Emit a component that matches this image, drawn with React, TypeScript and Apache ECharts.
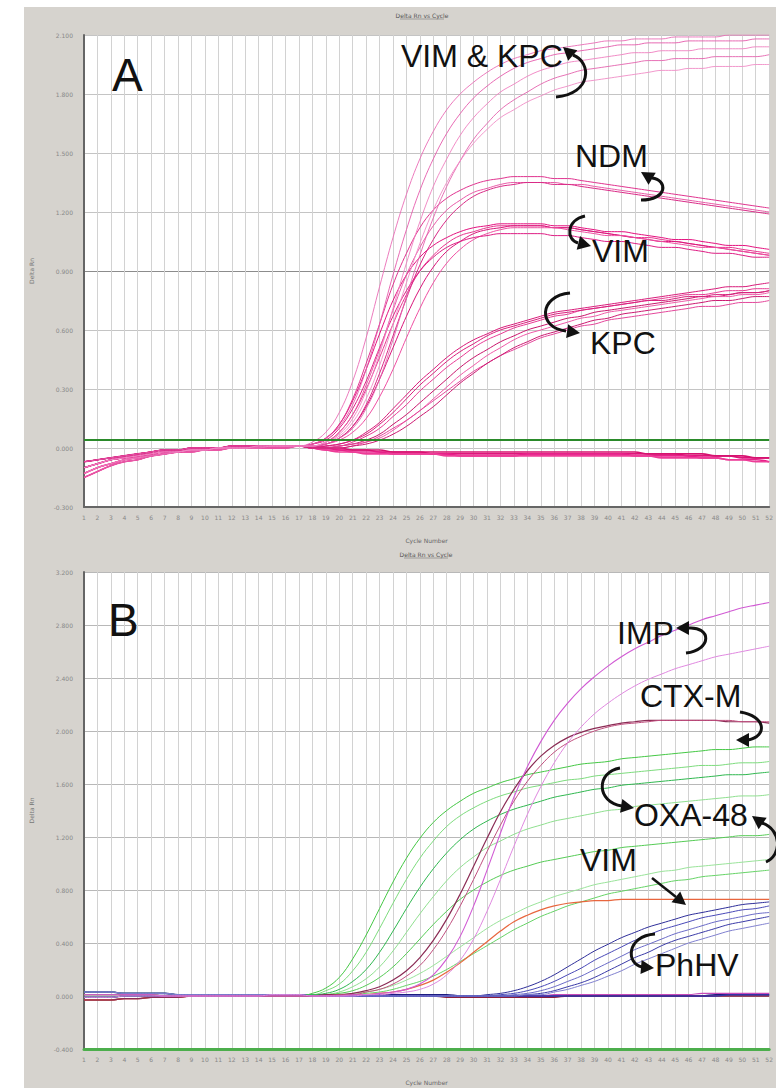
import React, { useEffect, useRef } from "react";
import * as echarts from "echarts";

// ---------- categories / ticks ----------
const cycles = ["1","2","3","4","5","6","7","8","9","10","11","12","13","14","15","16","17","18","19","20","21","22","23","24","25","26","27","28","29","30","31","32","33","34","35","36","37","38","39","40","41","42","43","44","45","46","47","48","49","50","51","52"];
const yMinA = -0.3, yMaxA = 2.1, yStepA = 0.3;
const yMinB = -0.4, yMaxB = 3.2, yStepB = 0.4;
const thresholdA = 0.04;

// ---------- Panel A (Delta Rn per cycle) ----------
const vimKpc1 = [-0.10,-0.08,-0.06,-0.05,-0.04,-0.03,-0.02,-0.02,-0.01,-0.01,0.00,0.00,0.00,0.01,0.01,0.01,0.01,0.03,0.08,0.18,0.34,0.56,0.82,1.07,1.29,1.47,1.61,1.72,1.80,1.86,1.91,1.95,1.98,2.00,2.02,2.03,2.04,2.05,2.06,2.07,2.07,2.08,2.08,2.08,2.09,2.09,2.09,2.09,2.10,2.10,2.10,2.10];
const vimKpc2 = [-0.07,-0.06,-0.05,-0.04,-0.03,-0.02,-0.01,-0.01,0.00,0.00,0.00,0.01,0.01,0.01,0.01,0.01,0.01,0.02,0.05,0.11,0.22,0.40,0.63,0.88,1.11,1.31,1.47,1.60,1.70,1.78,1.84,1.89,1.93,1.96,1.98,2.00,2.01,2.02,2.03,2.04,2.05,2.05,2.06,2.06,2.06,2.07,2.07,2.07,2.07,2.07,2.08,2.08];
const vimKpc3 = [-0.13,-0.10,-0.08,-0.06,-0.05,-0.04,-0.03,-0.02,-0.01,-0.01,0.00,0.00,0.00,0.00,0.01,0.01,0.01,0.01,0.03,0.07,0.15,0.29,0.48,0.71,0.94,1.15,1.33,1.47,1.59,1.68,1.75,1.81,1.85,1.89,1.92,1.94,1.96,1.97,1.98,1.99,2.00,2.01,2.01,2.02,2.02,2.02,2.03,2.03,2.03,2.03,2.04,2.04];
const vimKpc4 = [-0.15,-0.12,-0.09,-0.07,-0.06,-0.04,-0.03,-0.02,-0.02,-0.01,-0.01,0.00,0.00,0.00,0.00,0.00,0.01,0.01,0.02,0.05,0.10,0.20,0.35,0.55,0.77,0.98,1.17,1.33,1.46,1.57,1.65,1.72,1.77,1.81,1.85,1.88,1.90,1.92,1.93,1.94,1.95,1.96,1.97,1.97,1.98,1.98,1.98,1.99,1.99,1.99,1.99,2.00];
const vimKpc5 = [-0.10,-0.08,-0.06,-0.05,-0.04,-0.03,-0.02,-0.02,-0.01,-0.01,0.00,0.00,0.00,0.01,0.01,0.01,0.01,0.01,0.03,0.06,0.13,0.25,0.42,0.63,0.84,1.04,1.21,1.35,1.46,1.55,1.62,1.68,1.72,1.76,1.79,1.82,1.84,1.86,1.87,1.88,1.89,1.90,1.91,1.92,1.92,1.93,1.93,1.94,1.94,1.94,1.95,1.95];

const ndm1 = [-0.10,-0.08,-0.06,-0.05,-0.04,-0.03,-0.02,-0.02,-0.01,-0.01,0.00,0.00,0.00,0.01,0.01,0.01,0.01,0.02,0.05,0.12,0.25,0.43,0.63,0.83,0.99,1.12,1.21,1.27,1.31,1.34,1.36,1.37,1.38,1.38,1.38,1.37,1.37,1.36,1.35,1.34,1.33,1.32,1.31,1.30,1.29,1.28,1.27,1.26,1.25,1.24,1.23,1.22];
const ndm2 = [-0.13,-0.10,-0.08,-0.06,-0.05,-0.04,-0.03,-0.02,-0.01,-0.01,0.00,0.00,0.00,0.00,0.01,0.01,0.01,0.01,0.03,0.08,0.17,0.32,0.50,0.70,0.88,1.02,1.13,1.21,1.26,1.30,1.32,1.34,1.35,1.35,1.35,1.35,1.34,1.34,1.33,1.32,1.31,1.30,1.29,1.28,1.27,1.26,1.25,1.24,1.23,1.22,1.21,1.20];
const ndm3 = [-0.07,-0.06,-0.05,-0.04,-0.03,-0.02,-0.01,-0.01,0.00,0.00,0.00,0.01,0.01,0.01,0.01,0.01,0.01,0.01,0.02,0.05,0.11,0.22,0.38,0.57,0.76,0.93,1.06,1.16,1.23,1.28,1.31,1.33,1.34,1.35,1.35,1.34,1.34,1.33,1.32,1.31,1.30,1.29,1.28,1.27,1.26,1.25,1.24,1.23,1.22,1.21,1.20,1.19];

const vimA1 = [-0.10,-0.08,-0.06,-0.05,-0.04,-0.03,-0.02,-0.02,-0.01,-0.01,0.00,0.00,0.00,0.01,0.01,0.01,0.01,0.02,0.05,0.12,0.24,0.40,0.58,0.75,0.88,0.97,1.03,1.07,1.10,1.12,1.13,1.14,1.14,1.14,1.14,1.13,1.13,1.12,1.11,1.10,1.10,1.09,1.08,1.07,1.06,1.06,1.05,1.04,1.03,1.03,1.02,1.01];
const vimA2 = [-0.15,-0.12,-0.09,-0.07,-0.06,-0.04,-0.03,-0.02,-0.02,-0.01,-0.01,0.00,0.00,0.00,0.00,0.00,0.01,0.01,0.03,0.08,0.17,0.30,0.46,0.63,0.78,0.90,0.98,1.04,1.08,1.10,1.12,1.13,1.13,1.13,1.13,1.12,1.12,1.11,1.10,1.09,1.08,1.07,1.07,1.06,1.05,1.04,1.03,1.02,1.02,1.01,1.00,0.99];
const vimA3 = [-0.07,-0.06,-0.05,-0.04,-0.03,-0.02,-0.01,-0.01,0.00,0.00,0.00,0.01,0.01,0.01,0.01,0.01,0.01,0.01,0.02,0.05,0.11,0.21,0.35,0.51,0.67,0.81,0.92,1.00,1.05,1.09,1.11,1.12,1.13,1.13,1.13,1.12,1.12,1.11,1.10,1.09,1.08,1.07,1.06,1.05,1.05,1.04,1.03,1.02,1.01,1.00,0.99,0.98];
const vimA4 = [-0.13,-0.10,-0.08,-0.06,-0.05,-0.04,-0.03,-0.02,-0.01,-0.01,0.00,0.00,0.00,0.00,0.01,0.01,0.01,0.01,0.02,0.04,0.08,0.15,0.26,0.40,0.56,0.71,0.84,0.94,1.01,1.06,1.09,1.11,1.12,1.12,1.12,1.12,1.11,1.10,1.09,1.08,1.08,1.07,1.06,1.05,1.04,1.03,1.02,1.02,1.01,1.00,0.99,0.98];
const vimA5 = [-0.10,-0.08,-0.06,-0.05,-0.04,-0.03,-0.02,-0.02,-0.01,-0.01,0.00,0.00,0.00,0.01,0.01,0.01,0.01,0.02,0.04,0.10,0.20,0.34,0.51,0.67,0.80,0.90,0.97,1.02,1.05,1.07,1.08,1.09,1.09,1.09,1.09,1.08,1.08,1.07,1.06,1.05,1.05,1.04,1.03,1.02,1.02,1.01,1.00,0.99,0.99,0.98,0.97,0.97];

const kpc1 = [-0.10,-0.08,-0.06,-0.05,-0.04,-0.03,-0.02,-0.02,-0.01,-0.01,0.00,0.00,0.00,0.01,0.01,0.01,0.01,0.00,0.01,0.02,0.04,0.08,0.13,0.20,0.27,0.34,0.40,0.46,0.51,0.55,0.58,0.61,0.63,0.65,0.67,0.69,0.70,0.71,0.72,0.73,0.74,0.75,0.76,0.77,0.78,0.79,0.80,0.81,0.82,0.82,0.83,0.84];
const kpc2 = [-0.13,-0.10,-0.08,-0.06,-0.05,-0.04,-0.03,-0.02,-0.01,-0.01,0.00,0.00,0.00,0.00,0.01,0.01,0.01,0.00,0.01,0.01,0.03,0.06,0.10,0.16,0.22,0.29,0.35,0.41,0.46,0.51,0.55,0.58,0.61,0.63,0.65,0.67,0.68,0.70,0.71,0.72,0.73,0.74,0.75,0.76,0.77,0.78,0.78,0.79,0.80,0.80,0.81,0.81];
const kpc3 = [-0.07,-0.06,-0.05,-0.04,-0.03,-0.02,-0.01,-0.01,0.00,0.00,0.00,0.01,0.01,0.01,0.01,0.01,0.01,0.00,0.00,0.01,0.02,0.04,0.07,0.12,0.17,0.23,0.29,0.35,0.41,0.46,0.50,0.54,0.57,0.60,0.62,0.64,0.66,0.67,0.69,0.70,0.71,0.72,0.73,0.74,0.75,0.76,0.77,0.77,0.78,0.79,0.79,0.80];
const kpc4 = [-0.15,-0.12,-0.09,-0.07,-0.06,-0.04,-0.03,-0.02,-0.02,-0.01,-0.01,0.00,0.00,0.00,0.00,0.00,0.01,0.00,0.00,0.00,0.01,0.03,0.05,0.09,0.14,0.19,0.25,0.31,0.37,0.42,0.47,0.51,0.55,0.58,0.60,0.62,0.64,0.66,0.67,0.69,0.70,0.71,0.72,0.73,0.74,0.75,0.76,0.77,0.77,0.78,0.78,0.79];
const kpc5 = [-0.10,-0.08,-0.06,-0.05,-0.04,-0.03,-0.02,-0.02,-0.01,-0.01,0.00,0.00,0.00,0.01,0.01,0.01,0.01,0.00,0.01,0.02,0.04,0.07,0.12,0.18,0.25,0.32,0.38,0.44,0.49,0.53,0.57,0.60,0.62,0.64,0.66,0.68,0.69,0.70,0.71,0.72,0.73,0.74,0.75,0.75,0.76,0.77,0.77,0.78,0.78,0.79,0.79,0.80];
const kpc6 = [-0.13,-0.10,-0.08,-0.06,-0.05,-0.04,-0.03,-0.02,-0.01,-0.01,0.00,0.00,0.00,0.00,0.01,0.01,0.01,0.00,0.00,0.01,0.02,0.03,0.06,0.10,0.14,0.19,0.24,0.29,0.34,0.39,0.43,0.47,0.50,0.53,0.56,0.58,0.60,0.62,0.63,0.65,0.66,0.67,0.68,0.69,0.70,0.71,0.72,0.72,0.73,0.74,0.74,0.75];
const kpc7 = [-0.07,-0.06,-0.05,-0.04,-0.03,-0.02,-0.01,-0.01,0.00,0.00,0.00,0.01,0.01,0.01,0.01,0.01,0.01,0.00,0.00,0.00,0.01,0.02,0.04,0.07,0.11,0.16,0.21,0.27,0.33,0.38,0.43,0.47,0.51,0.54,0.57,0.59,0.61,0.63,0.65,0.66,0.68,0.69,0.70,0.71,0.72,0.73,0.74,0.75,0.75,0.76,0.77,0.77];

const negA1 = [-0.10,-0.08,-0.06,-0.05,-0.04,-0.03,-0.02,-0.02,-0.01,-0.01,0.00,0.00,0.00,0.01,0.01,0.01,0.01,0.00,0.00,-0.01,-0.01,-0.01,-0.02,-0.02,-0.02,-0.02,-0.03,-0.03,-0.03,-0.03,-0.03,-0.03,-0.03,-0.03,-0.03,-0.03,-0.03,-0.03,-0.03,-0.03,-0.03,-0.03,-0.03,-0.03,-0.03,-0.04,-0.04,-0.04,-0.04,-0.05,-0.05,-0.05];
const negA2 = [-0.13,-0.10,-0.08,-0.06,-0.05,-0.04,-0.03,-0.02,-0.01,-0.01,0.00,0.00,0.00,0.00,0.01,0.01,0.01,0.00,-0.01,-0.01,-0.02,-0.02,-0.02,-0.03,-0.03,-0.03,-0.03,-0.03,-0.04,-0.04,-0.04,-0.04,-0.04,-0.03,-0.03,-0.03,-0.03,-0.03,-0.03,-0.03,-0.03,-0.04,-0.04,-0.04,-0.04,-0.04,-0.05,-0.05,-0.06,-0.06,-0.06,-0.07];
const negA3 = [-0.07,-0.06,-0.05,-0.04,-0.03,-0.02,-0.01,-0.01,0.00,0.00,0.00,0.01,0.01,0.01,0.01,0.01,0.01,0.01,0.00,0.00,-0.01,-0.01,-0.01,-0.02,-0.02,-0.02,-0.02,-0.02,-0.02,-0.02,-0.02,-0.02,-0.02,-0.02,-0.02,-0.02,-0.02,-0.02,-0.02,-0.02,-0.02,-0.02,-0.03,-0.03,-0.03,-0.03,-0.03,-0.04,-0.04,-0.04,-0.05,-0.05];
const negA4 = [-0.15,-0.12,-0.09,-0.07,-0.06,-0.04,-0.03,-0.02,-0.02,-0.01,-0.01,0.00,0.00,0.00,0.00,0.00,0.01,0.00,-0.01,-0.02,-0.02,-0.03,-0.03,-0.03,-0.03,-0.03,-0.03,-0.04,-0.04,-0.04,-0.04,-0.04,-0.04,-0.04,-0.04,-0.04,-0.04,-0.04,-0.04,-0.04,-0.04,-0.04,-0.04,-0.05,-0.05,-0.05,-0.05,-0.05,-0.06,-0.06,-0.07,-0.07];

// ---------- Panel B ----------
const imp1 = [0.01,0.01,0.01,0.01,0.01,0.01,0.00,0.00,0.00,0.00,0.00,0.00,0.00,0.00,0.00,0.00,0.00,0.00,0.00,0.00,0.01,0.01,0.02,0.03,0.05,0.09,0.16,0.28,0.45,0.68,0.95,1.23,1.50,1.73,1.92,2.08,2.21,2.32,2.41,2.49,2.56,2.62,2.67,2.72,2.76,2.80,2.84,2.87,2.90,2.93,2.95,2.97];
const imp2 = [-0.01,-0.01,-0.01,0.00,0.00,0.00,0.00,0.00,0.00,0.00,0.00,0.00,0.00,0.00,0.01,0.01,0.01,0.00,0.00,0.00,0.00,0.01,0.01,0.02,0.03,0.05,0.09,0.16,0.27,0.43,0.64,0.88,1.13,1.37,1.58,1.76,1.91,2.03,2.13,2.21,2.28,2.34,2.39,2.43,2.47,2.50,2.53,2.56,2.58,2.60,2.62,2.64];

const ctx1 = [-0.03,-0.03,-0.03,-0.02,-0.02,-0.01,-0.01,-0.01,0.00,0.00,0.00,0.00,0.00,0.00,0.00,0.00,0.00,0.00,0.01,0.01,0.02,0.04,0.07,0.12,0.19,0.29,0.42,0.58,0.77,0.98,1.19,1.39,1.56,1.70,1.81,1.89,1.95,1.99,2.02,2.04,2.06,2.07,2.08,2.08,2.08,2.08,2.08,2.08,2.07,2.07,2.07,2.06];
const ctx2 = [0.01,0.01,0.01,0.01,0.01,0.01,0.00,0.00,0.00,0.00,0.00,0.00,0.00,0.00,0.00,0.00,0.00,0.00,0.00,0.01,0.01,0.03,0.05,0.09,0.15,0.23,0.35,0.50,0.68,0.88,1.09,1.29,1.47,1.62,1.74,1.84,1.91,1.96,2.00,2.03,2.05,2.06,2.07,2.08,2.08,2.08,2.08,2.08,2.08,2.07,2.07,2.07];

const oxa1 = [0.01,0.01,0.01,0.01,0.01,0.01,0.00,0.00,0.00,0.00,0.00,0.00,0.00,0.00,0.00,0.00,0.00,0.02,0.06,0.14,0.28,0.46,0.66,0.86,1.04,1.19,1.31,1.40,1.47,1.53,1.57,1.61,1.64,1.67,1.69,1.71,1.73,1.75,1.76,1.77,1.79,1.80,1.81,1.82,1.83,1.84,1.85,1.86,1.86,1.87,1.88,1.88];
const oxa2 = [-0.01,-0.01,-0.01,0.00,0.00,0.00,0.00,0.00,0.00,0.00,0.00,0.00,0.00,0.00,0.01,0.01,0.01,0.01,0.04,0.09,0.19,0.33,0.51,0.70,0.88,1.04,1.17,1.28,1.36,1.42,1.47,1.51,1.54,1.57,1.59,1.61,1.63,1.64,1.66,1.67,1.68,1.69,1.70,1.71,1.72,1.73,1.74,1.74,1.75,1.76,1.76,1.77];
const oxa3 = [0.03,0.03,0.03,0.02,0.02,0.02,0.02,0.01,0.01,0.01,0.01,0.01,0.01,0.01,0.01,0.01,0.01,0.01,0.02,0.05,0.11,0.20,0.33,0.49,0.66,0.82,0.96,1.08,1.18,1.26,1.32,1.37,1.41,1.44,1.47,1.50,1.52,1.54,1.56,1.57,1.59,1.60,1.61,1.62,1.63,1.64,1.65,1.66,1.67,1.67,1.68,1.69];
const oxa4 = [0.01,0.01,0.01,0.01,0.01,0.01,0.00,0.00,0.00,0.00,0.00,0.00,0.00,0.00,0.00,0.00,0.00,0.00,0.01,0.03,0.07,0.13,0.22,0.34,0.48,0.62,0.75,0.87,0.97,1.05,1.12,1.17,1.22,1.26,1.29,1.32,1.34,1.36,1.38,1.40,1.41,1.43,1.44,1.45,1.46,1.47,1.48,1.49,1.50,1.51,1.51,1.52];
const oxa5 = [-0.01,-0.01,-0.01,0.00,0.00,0.00,0.00,0.00,0.00,0.00,0.00,0.00,0.00,0.00,0.01,0.01,0.01,0.00,0.01,0.02,0.04,0.08,0.14,0.22,0.32,0.43,0.54,0.64,0.73,0.80,0.86,0.91,0.95,0.98,1.01,1.03,1.05,1.07,1.09,1.10,1.12,1.13,1.14,1.15,1.16,1.17,1.18,1.19,1.20,1.21,1.21,1.22];
const oxa6 = [0.03,0.03,0.03,0.02,0.02,0.02,0.02,0.01,0.01,0.01,0.01,0.01,0.01,0.01,0.01,0.01,0.01,0.00,0.00,0.01,0.02,0.03,0.05,0.08,0.12,0.17,0.23,0.30,0.37,0.44,0.51,0.57,0.62,0.67,0.71,0.75,0.78,0.81,0.84,0.86,0.88,0.90,0.92,0.94,0.95,0.97,0.98,0.99,1.00,1.01,1.02,1.03];
const oxa7 = [0.01,0.01,0.01,0.01,0.01,0.01,0.00,0.00,0.00,0.00,0.00,0.00,0.00,0.00,0.00,0.00,0.00,0.00,0.00,0.00,0.01,0.02,0.03,0.05,0.08,0.11,0.15,0.20,0.26,0.32,0.38,0.44,0.50,0.55,0.60,0.64,0.68,0.71,0.74,0.77,0.79,0.81,0.83,0.85,0.87,0.88,0.90,0.91,0.92,0.93,0.94,0.95];

const vimB = [-0.03,-0.03,-0.03,-0.02,-0.02,-0.01,-0.01,-0.01,0.00,0.00,0.00,0.00,0.00,0.00,0.00,0.00,0.00,0.00,0.00,0.00,0.01,0.01,0.02,0.03,0.05,0.08,0.12,0.18,0.25,0.33,0.41,0.49,0.56,0.61,0.65,0.68,0.70,0.71,0.72,0.72,0.73,0.73,0.73,0.73,0.73,0.73,0.73,0.73,0.73,0.73,0.73,0.73];

const phhv1 = [0.03,0.03,0.03,0.02,0.02,0.02,0.02,0.01,0.01,0.01,0.01,0.01,0.01,0.01,0.01,0.01,0.01,0.00,0.00,0.00,0.00,0.00,0.00,0.00,0.00,0.00,0.00,0.00,0.00,0.00,0.01,0.02,0.04,0.07,0.11,0.16,0.22,0.28,0.34,0.39,0.44,0.48,0.52,0.55,0.58,0.61,0.63,0.65,0.67,0.69,0.70,0.71];
const phhv2 = [-0.01,-0.01,-0.01,0.00,0.00,0.00,0.00,0.00,0.00,0.00,0.00,0.00,0.00,0.00,0.01,0.01,0.01,0.00,0.00,0.00,0.00,0.00,0.00,0.00,0.00,0.00,0.00,0.00,0.00,0.00,0.00,0.01,0.02,0.04,0.07,0.11,0.16,0.21,0.27,0.32,0.37,0.42,0.46,0.50,0.53,0.56,0.59,0.61,0.63,0.65,0.66,0.68];
const phhv3 = [0.03,0.03,0.03,0.02,0.02,0.02,0.02,0.01,0.01,0.01,0.01,0.01,0.01,0.01,0.01,0.01,0.01,0.00,0.00,0.00,0.00,0.00,0.00,0.00,0.00,0.00,0.00,0.00,0.00,0.00,0.00,0.00,0.01,0.02,0.04,0.07,0.11,0.15,0.20,0.25,0.30,0.35,0.39,0.43,0.47,0.50,0.53,0.56,0.58,0.60,0.62,0.63];
const phhv4 = [-0.01,-0.01,-0.01,0.00,0.00,0.00,0.00,0.00,0.00,0.00,0.00,0.00,0.00,0.00,0.01,0.01,0.01,0.00,0.00,0.00,0.00,0.00,0.00,0.00,0.00,0.00,0.00,0.00,0.00,0.00,0.00,0.00,0.00,0.01,0.02,0.04,0.07,0.10,0.14,0.19,0.24,0.29,0.33,0.38,0.42,0.45,0.48,0.51,0.54,0.56,0.58,0.60];
const phhv5 = [0.03,0.03,0.03,0.02,0.02,0.02,0.02,0.01,0.01,0.01,0.01,0.01,0.01,0.01,0.01,0.01,0.01,0.00,0.00,0.00,0.00,0.00,0.00,0.00,0.00,0.00,0.00,0.00,0.00,0.00,0.00,0.00,0.00,0.01,0.01,0.03,0.05,0.08,0.11,0.15,0.19,0.24,0.28,0.32,0.36,0.40,0.43,0.46,0.49,0.51,0.53,0.55];

const negB1 = [0.03,0.03,0.03,0.02,0.02,0.02,0.02,0.01,0.01,0.01,0.01,0.01,0.01,0.01,0.01,0.01,0.01,0.01,0.01,0.01,0.01,0.01,0.01,0.01,0.01,0.01,0.01,0.01,0.00,0.00,0.00,0.00,0.00,0.00,0.00,0.00,0.00,0.00,0.00,0.00,0.00,0.00,0.00,0.00,0.00,0.00,0.00,0.01,0.01,0.01,0.01,0.01];
const negB2 = [0.01,0.01,0.01,0.01,0.01,0.01,0.00,0.00,0.00,0.00,0.00,0.00,0.00,0.00,0.00,0.00,0.00,0.00,0.00,0.00,0.00,0.00,0.00,0.00,0.00,0.00,0.00,0.00,0.00,0.00,0.00,0.00,0.00,0.00,0.00,0.01,0.01,0.01,0.01,0.01,0.01,0.01,0.01,0.01,0.01,0.01,0.02,0.02,0.02,0.02,0.02,0.02];
const negB3 = [-0.03,-0.03,-0.03,-0.02,-0.02,-0.01,-0.01,-0.01,0.00,0.00,0.00,0.00,0.00,0.00,0.00,0.00,0.00,0.00,0.00,0.00,0.00,0.00,0.00,0.00,0.00,0.00,0.00,-0.01,-0.01,-0.01,-0.01,-0.01,-0.01,-0.01,-0.01,-0.01,0.00,0.00,0.00,0.00,0.00,0.00,0.00,0.00,0.00,0.00,0.00,0.00,0.00,0.00,0.00,0.00];
const negB4 = [-0.01,-0.01,-0.01,0.00,0.00,0.00,0.00,0.00,0.00,0.00,0.00,0.00,0.00,0.00,0.01,0.01,0.01,0.00,0.00,0.00,0.00,0.00,0.00,0.00,0.00,0.00,0.00,0.00,0.00,0.00,0.00,0.00,0.00,0.00,0.00,0.00,0.00,0.00,0.00,0.00,0.00,0.00,0.00,0.00,0.00,0.00,0.00,0.00,0.01,0.01,0.01,0.01];

// ---------- groups (colour per curve) ----------
const groupsA: [number[], string, number][] = [
  [negA1, "#e0137c", 1.6], [negA2, "#e8208a", 1.6], [negA3, "#d6126f", 1.6], [negA4, "#ee3d98", 1.6],
  [kpc1, "#d81b7a", 1], [kpc2, "#e83a94", 1], [kpc3, "#c9156c", 1], [kpc4, "#ef5aa8", 1], [kpc5, "#d91f7d", 1], [kpc6, "#e4479b", 1], [kpc7, "#cc1a72", 1],
  [vimA1, "#e4117f", 1], [vimA2, "#e8358f", 1], [vimA3, "#d9157a", 1], [vimA4, "#ef4fa2", 1], [vimA5, "#de1d84", 1],
  [ndm1, "#e0338f", 1], [ndm2, "#e95ba8", 1], [ndm3, "#d92a86", 1],
  [vimKpc1, "#ea6cb6", 0.9], [vimKpc2, "#e55aac", 0.9], [vimKpc3, "#ef7fc0", 0.9], [vimKpc4, "#e462ae", 0.9], [vimKpc5, "#f08cc6", 0.9],
];
const groupsB: [number[], string, number][] = [
  [negB1, "#1c1c80", 1.6], [negB2, "#c84bb8", 1.2], [negB3, "#8a1f3c", 1.4], [negB4, "#3333aa", 1.4],
  [oxa1, "#44c844", 1], [oxa2, "#7ddc7d", 1], [oxa3, "#2fb84f", 1], [oxa4, "#8fe08f", 1], [oxa5, "#55cc55", 1], [oxa6, "#9ae49a", 1], [oxa7, "#66d466", 1],
  [vimB, "#e8663e", 1.2],
  [phhv1, "#2e2e9a", 1], [phhv2, "#4848b8", 1], [phhv3, "#6a6ac8", 1], [phhv4, "#3a3aa8", 1], [phhv5, "#8080d0", 1],
  [ctx1, "#8b2c55", 1.2], [ctx2, "#c0507f", 1],
  [imp1, "#d15ad4", 1.1], [imp2, "#e088e0", 1],
];

type Arrow = { c: number[]; tip: number[]; dir: number[]; straight?: boolean };
const arrows: Arrow[] = [
  { c: [556, 97, 592, 94, 592, 62, 573, 55], tip: [563, 47], dir: [-8, -7] },
  { c: [641, 200, 668, 200, 668, 180, 652, 178], tip: [641, 172], dir: [-10, -6] },
  { c: [585, 216, 566, 220, 566, 240, 578, 243], tip: [591, 246], dir: [12, 3] },
  { c: [570, 293, 538, 296, 538, 328, 566, 331], tip: [580, 333], dir: [14, 2] },
  { c: [688, 628, 712, 626, 712, 650, 686, 653], tip: [676, 628], dir: [-12, 0] },
  { c: [740, 712, 766, 716, 768, 736, 748, 740], tip: [736, 740], dir: [-12, 0] },
  { c: [620, 768, 596, 772, 596, 802, 622, 806], tip: [634, 808], dir: [12, 2] },
  { c: [762, 823, 782, 830, 782, 855, 766, 862], tip: [752, 816], dir: [-10, -7] },
  { c: [652, 878, 660, 884, 668, 890, 676, 897], tip: [686, 905], dir: [10, 8], straight: true },
  { c: [655, 934, 626, 936, 626, 964, 642, 967], tip: [654, 968], dir: [12, 1] },
];

const labels: [string, number, number, number][] = [
  ["A", 112, 75, 46], ["VIM & KPC", 401, 56, 32], ["NDM", 575, 156, 32], ["VIM", 592, 251, 32], ["KPC", 590, 343, 32],
  ["B", 108, 620, 46], ["IMP", 617, 633, 32], ["CTX-M", 640, 696, 32], ["OXA-48", 634, 815, 32], ["VIM", 580, 860, 32], ["PhHV", 655, 965, 32],
];

function headPoints(t: number[], d: number[]) {
  const len = Math.hypot(d[0], d[1]);
  const ux = d[0] / len, uy = d[1] / len;
  const s = 13, w = 7;
  const bx = t[0] - ux * s, by = t[1] - uy * s;
  return [[t[0], t[1]], [bx - uy * w, by + ux * w], [bx + uy * w, by - ux * w]];
}

export default function App() {
  const ref = useRef<HTMLDivElement>(null);
  useEffect(() => {
    if (!ref.current) return;
    const chart = echarts.init(ref.current, null, { renderer: "svg" });
    const font = "DejaVu Sans";
    const mkX = (gi: number, lineColor: string, lw: number) => ({
      type: "category", gridIndex: gi, data: cycles, boundaryGap: false,
      axisLine: { show: true, onZero: false, lineStyle: { color: lineColor, width: lw } },
      axisTick: { show: false },
      axisLabel: { interval: 0, fontSize: 6, color: "#888", margin: 7, fontFamily: font },
      splitLine: { show: true, interval: 0, lineStyle: { color: "#d2d2d2", width: 1 } },
      name: "Cycle Number", nameLocation: "middle", nameGap: 30,
      nameTextStyle: { fontSize: 6, color: "#666", fontFamily: font },
    });
    const mkY = (gi: number, min: number, max: number, step: number, colors: string[] | string) => ({
      type: "value", gridIndex: gi, min, max, interval: step,
      axisLine: { show: true, onZero: false, lineStyle: { color: "#666", width: 2 } },
      axisTick: { show: false },
      axisLabel: { fontSize: 6, color: "#888", margin: 11, fontFamily: font, formatter: (v: number) => v.toFixed(3) },
      splitLine: { show: true, lineStyle: { color: colors, width: 1 } },
      name: "Delta Rn", nameLocation: "middle", nameGap: 50,
      nameTextStyle: { fontSize: 6, color: "#777", fontFamily: font },
    });
    const lc = "#c4c4c4";
    const series: any[] = [];
    groupsA.forEach(([d, c, w], i) => {
      const s: any = { type: "line", xAxisIndex: 0, yAxisIndex: 0, data: d, symbol: "none", smooth: 0.4, silent: true, lineStyle: { color: c, width: w } };
      if (i === 0) s.markLine = { silent: true, symbol: ["none", "none"], label: { show: false }, lineStyle: { color: "#2a8a2a", width: 2, type: "solid" }, data: [{ yAxis: thresholdA }] };
      series.push(s);
    });
    groupsB.forEach(([d, c, w]) => {
      series.push({ type: "line", xAxisIndex: 1, yAxisIndex: 1, data: d, symbol: "none", smooth: 0.4, silent: true, lineStyle: { color: c, width: w } });
    });

    const graphic: any[] = [
      { type: "rect", shape: { x: 0, y: 0, width: 24, height: 1088 }, style: { fill: "#ffffff" }, silent: true },
      { type: "rect", shape: { x: 0, y: 0, width: 776, height: 7 }, style: { fill: "#ffffff" }, silent: true },
      { type: "text", style: { text: "Delta Rn vs Cycle", x: 422, y: 15, align: "center", verticalAlign: "middle", fontSize: 6, fontFamily: font, fill: "#555" } },
      { type: "line", shape: { x1: 400, y1: 19, x2: 444, y2: 19 }, style: { stroke: "#777", lineWidth: 0.6 } },
      { type: "text", style: { text: "Delta Rn vs Cycle", x: 426, y: 554, align: "center", verticalAlign: "middle", fontSize: 6, fontFamily: font, fill: "#555" } },
      { type: "line", shape: { x1: 404, y1: 558, x2: 448, y2: 558 }, style: { stroke: "#777", lineWidth: 0.6 } },
    ];
    labels.forEach(([t, x, y, fs]) => {
      graphic.push({ type: "text", z: 100, style: { text: t, x, y, align: "left", verticalAlign: "middle", fontSize: fs, fontFamily: "Liberation Sans", fill: "#111" } });
    });
    arrows.forEach((a) => {
      if (a.straight) {
        graphic.push({ type: "line", z: 100, shape: { x1: a.c[0], y1: a.c[1], x2: a.c[6], y2: a.c[7] }, style: { stroke: "#111", lineWidth: 2.5 } });
      } else {
        graphic.push({ type: "bezierCurve", z: 100, shape: { x1: a.c[0], y1: a.c[1], cpx1: a.c[2], cpy1: a.c[3], cpx2: a.c[4], cpy2: a.c[5], x2: a.c[6], y2: a.c[7] }, style: { stroke: "#111", lineWidth: 3, fill: null } });
      }
      graphic.push({ type: "polygon", z: 100, shape: { points: headPoints(a.tip, a.dir) }, style: { fill: "#111" } });
    });

    chart.setOption({
      animation: false,
      backgroundColor: "#d6d3ce",
      grid: [
        { left: 84, top: 35, right: 0, height: 472, show: true, backgroundColor: "#ffffff", borderWidth: 0 },
        { left: 84, top: 572, right: 0, height: 477, show: true, backgroundColor: "#ffffff", borderWidth: 0 },
      ],
      xAxis: [mkX(0, "#666", 2), mkX(1, "#4cae4c", 3)],
      yAxis: [
        mkY(0, yMinA, yMaxA, yStepA, [lc, lc, lc, lc, "#8c8c8c", lc, lc, lc, lc]),
        mkY(1, yMinB, yMaxB, yStepB, "#b8b8b8"),
      ],
      series,
      graphic,
    });
    return () => chart.dispose();
  }, []);
  return <div ref={ref} style={{ position: "absolute", left: 0, top: 0, width: 776, height: 1088 }} />;
}
